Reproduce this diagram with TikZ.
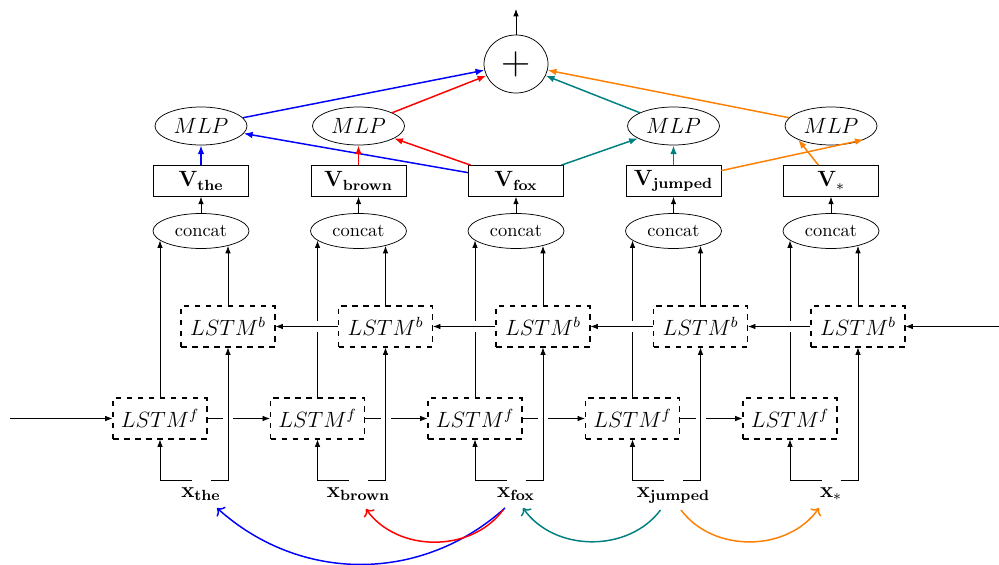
\documentclass[tikz,border=0pt]{standalone}
\usetikzlibrary{shapes.geometric,calc,arrows.meta}
\newcommand\pxu{0.5435pt}
\begin{document}
\begin{tikzpicture}[x=\pxu,y=\pxu,
  lstm/.style={draw,dashed,semithick,minimum width=94*\pxu,minimum height=41*\pxu,inner sep=0pt,font=\large},
  vbox/.style={draw,minimum width=95*\pxu,minimum height=31*\pxu,inner sep=0pt,font=\large},
  cc/.style={draw,ellipse,minimum width=96*\pxu,minimum height=35*\pxu,inner sep=0pt},
  mlp/.style={draw,ellipse,minimum width=92*\pxu,minimum height=38*\pxu,inner sep=0pt,font=\large},
  xlab/.style={inner sep=0pt,font=\large,anchor=base},
  arr/.style={-{Latex[length=4pt,width=3pt]}},
  carr/.style={thick,-{Latex[length=4.8pt,width=3.6pt]}},
  curv/.style={thick,->},
  gap/.style={white}
]
\fill[white] (0,0) rectangle (999,-565);
\useasboundingbox (0,0) rectangle (999,-565);

\node[draw,ellipse,minimum width=64*\pxu,minimum height=58*\pxu,inner sep=0pt,
      font=\fontsize{22}{22}\selectfont] (plus) at (516,-64) {+};

\foreach \i/\w in {0/the,1/brown,2/fox,3/jumped,4/*} {
  \pgfmathsetmacro\cx{201+157.5*\i}
  \node[vbox] (v\i) at (\cx,-181) {$\mathbf{V}_{\mathbf{\w}}$};
  \node[cc] (cc\i) at (\cx,-231) {concat};
  \node[lstm] (b\i) at (\cx+27,-326.5) {$LSTM^b$};
  \node[lstm] (f\i) at (\cx-41,-418.5) {$LSTM^f$};
  \node[xlab] (x\i) at (\cx,-497) {$\mathbf{x}_{\mathbf{\w}}$};
}
\foreach \i in {0,1,3,4} {
  \pgfmathsetmacro\cx{201+157.5*\i}
  \node[mlp] (mlp\i) at (\cx,-126) {$MLP$};
}

% output arrow
\coordinate (out) at (516,-9);
\draw[arr] (plus) -- (out);

% f -> concat (under), with gaps at the b row
\foreach \i in {0,...,4} {
  \draw[arr] (f\i.north) -- ($(f\i.north |- cc\i.center)+(0,-9.6)$);
}
\foreach \i in {1,...,4} {
  \fill[gap] ($(f\i.north |- b\i.west)+(-2.5,-5.5)$) rectangle ($(f\i.north |- b\i.west)+(2.5,5.5)$);
}
% backward LSTM chain
\coordinate (bin) at (999,-326.5);
\draw[arr] (bin) -- (b4);
\foreach \i/\h in {1/0,2/1,3/2,4/3} {
  \draw[arr] (b\i) -- (b\h);
}
% forward LSTM chain
\coordinate (fin) at (10,-418.5);
\draw[arr] (fin) -- (f0);
\foreach \i/\j in {0/1,1/2,2/3,3/4} {
  \draw[arr] (f\i) -- (f\j);
  \fill[gap] ($(b\i.south |- f\i.east)+(-5,-2.5)$) rectangle ($(b\i.south |- f\i.east)+(5,2.5)$);
}
% inputs to LSTMs, b -> concat, concat -> V
\foreach \i in {0,...,4} {
  \draw[arr] ($(x\i.base)+(-9.5,17)$) -| (f\i.south);
  \draw[arr] ($(x\i.base)+(9.5,17)$) -| (b\i.south);
  \draw[arr] (b\i.north) -- ($(b\i.north |- cc\i.center)+(0,-15)$);
  \draw[arr] (cc\i) -- (v\i);
}

% V -> MLP
\draw[carr,blue] (v0) -- (mlp0);
\draw[carr,blue] (v2) -- (mlp0);
\draw[carr,red] (v1) -- (mlp1);
\draw[carr,red] (v2) -- (mlp1);
\draw[carr,teal] (v3) -- (mlp3);
\draw[carr,teal] (v2) -- (mlp3);
\draw[carr,orange] (v4) -- (mlp4.south west);
\draw[carr,orange] (v3) -- (mlp4.south east);
% MLP -> plus
\draw[carr,blue] (mlp0) -- (plus);
\draw[carr,red] (mlp1) -- (plus);
\draw[carr,teal] (mlp3) -- (plus);
\draw[carr,orange] (mlp4) -- (plus);

% dependency arcs
\draw[curv,blue] ($(x2.base)+(-11,-11)$) to[bend left=42] ($(x0.base)+(16,-11)$);
\draw[curv,red] ($(x2.base)+(-13,-13)$) to[bend left=54] ($(x1.base)+(7.5,-12)$);
\draw[curv,teal] ($(x3.base)+(-13,-13)$) to[bend left=54] ($(x2.base)+(7,-11)$);
\draw[curv,orange] ($(x3.base)+(7.5,-13)$) to[bend right=54] ($(x4.base)+(-12,-11)$);
\end{tikzpicture}
\end{document}
